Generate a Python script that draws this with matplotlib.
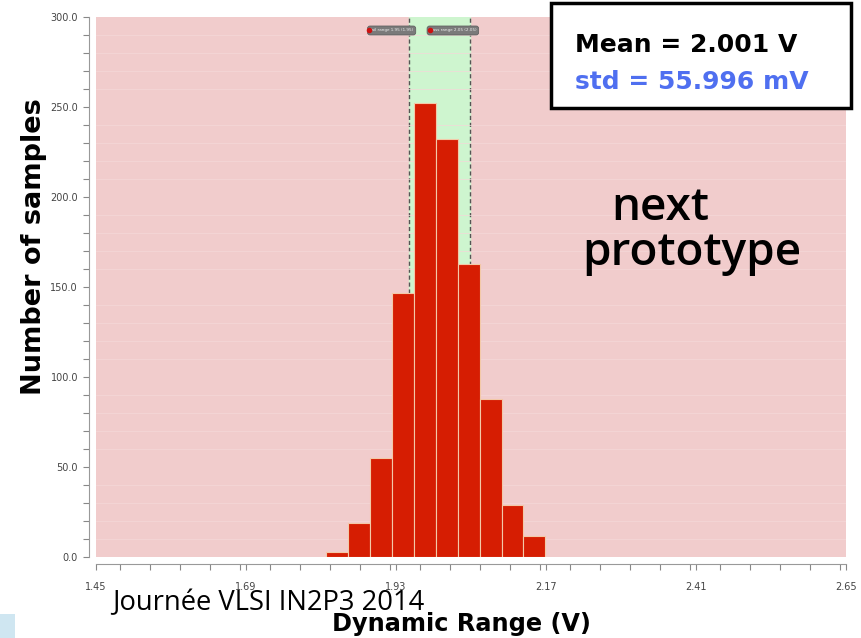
import matplotlib

matplotlib.use("Agg")
import matplotlib.pyplot as plt
from matplotlib.patches import Rectangle
from matplotlib.ticker import MultipleLocator

# histogram of dynamic range (V)
bin_edges = [1.818, 1.853, 1.888, 1.923, 1.958, 1.994, 2.029, 2.064, 2.099, 2.134, 2.169]
counts = [3, 19, 55, 147, 252, 232, 163, 88, 29, 12]
pass_band = (1.950, 2.049)
x_ticks = [1.45, 1.69, 1.93, 2.17, 2.41, 2.65]
y_ticks = [0, 50, 100, 150, 200, 250, 300]
mean_txt = "Mean = 2.001 V"
std_txt = "std = 55.996 mV"

PINK, GREEN, RED = "#f1cccc", "#cef5cf", "#d61d02"
TICKFONT = ["Liberation Sans", "DejaVu Sans"]
BOLD = ["DejaVu Sans"]
SLIDE = ["Open Sans", "DejaVu Sans"]

fig = plt.figure(figsize=(8.62, 6.38), dpi=100)
ax = fig.add_axes([0.1114, 0.1262, 0.870, 0.8472])
ax.set_xlim(x_ticks[0], x_ticks[-1])
ax.set_ylim(0, 300)
ax.set_facecolor(PINK)

ax.axvspan(*pass_band, color=GREEN, zorder=0)
for xv in pass_band:
    ax.axvline(xv, color="#555555", lw=1.0, ls=(0, (3, 2)), zorder=1)
ax.yaxis.grid(True, which="minor", color="#f4d8d8", lw=0.5, zorder=0)

lefts = bin_edges[:-1]
widths = [b - a for a, b in zip(bin_edges[:-1], bin_edges[1:])]
ax.bar(lefts, counts, width=widths, align="edge", color=RED,
       edgecolor="#f3c9a8", linewidth=0.8, zorder=2)

# little marker tags at top of the pass band
for xc, lab in [(1.920, "fail range 1.95 (1.95)"), (2.018, "pass range 2.05 (2.05)")]:
    ax.text(xc + 0.003, 292.5, lab, fontsize=3, color="#eeeeee", ha="center", va="center",
            bbox=dict(boxstyle="round,pad=0.6", fc="#7a7a7a", ec="#5a5a5a", lw=0.5), zorder=4)
    ax.plot(xc - 0.034, 292.5, "o", ms=3, color="#cc1111", zorder=5)

ax.set_xticks(x_ticks)
ax.set_xticklabels([f"{v:.2f}" for v in x_ticks], fontfamily=TICKFONT)
ax.set_yticks(y_ticks)
ax.set_yticklabels([f"{v:.1f}" for v in y_ticks], fontfamily=TICKFONT)
ax.xaxis.set_minor_locator(MultipleLocator(0.048))
ax.yaxis.set_minor_locator(MultipleLocator(10))
ax.tick_params(axis="both", which="both", colors="#888888", labelcolor="#444444",
               labelsize=7, length=4, width=0.8)
ax.tick_params(axis="x", which="major", pad=9)
ax.tick_params(axis="y", which="major", pad=4)
for s in ("top", "right"):
    ax.spines[s].set_visible(False)
for s in ("left", "bottom"):
    ax.spines[s].set_color("#999999")
    ax.spines[s].set_position(("outward", 5))

fig.text(0.040, 0.614, "Number of samples", rotation=90, ha="center", va="center",
         fontsize=19.5, fontweight="bold", family=BOLD)
fig.text(0.535, 1 - 631 / 638, "Dynamic Range (V)", ha="center", va="baseline",
         fontsize=17.3, fontweight="bold", family=BOLD)
fig.text(0.130, 1 - 610 / 638, "Journée VLSI IN2P3 2014", ha="left", va="baseline",
         fontsize=19.7, family=SLIDE)
fig.text(0.709, 1 - 220 / 638, "next", ha="left", va="baseline", fontsize=33,
         fontweight="semibold", family=SLIDE)
fig.text(0.676, 1 - 265 / 638, "prototype", ha="left", va="baseline", fontsize=33,
         fontweight="semibold", family=SLIDE)

# stats box
fig.patches.append(Rectangle((551 / 862, 1 - 108 / 638), 300 / 862, 105 / 638,
                             transform=fig.transFigure, fc="white", ec="black", lw=2.5))
fig.text(575 / 862, 1 - 45 / 638, mean_txt, ha="left", va="center", fontsize=18,
         fontweight="bold", family=BOLD, color="black")
fig.text(575 / 862, 1 - 82 / 638, std_txt, ha="left", va="center", fontsize=18,
         fontweight="bold", family=BOLD, color="#4f6ff0")

# slide decoration bottom-left
fig.patches.append(Rectangle((0, 0), 15 / 862, 24 / 638, transform=fig.transFigure,
                             fc="#cfe6f1", ec="none"))

fig.savefig("out.png", dpi=100)
